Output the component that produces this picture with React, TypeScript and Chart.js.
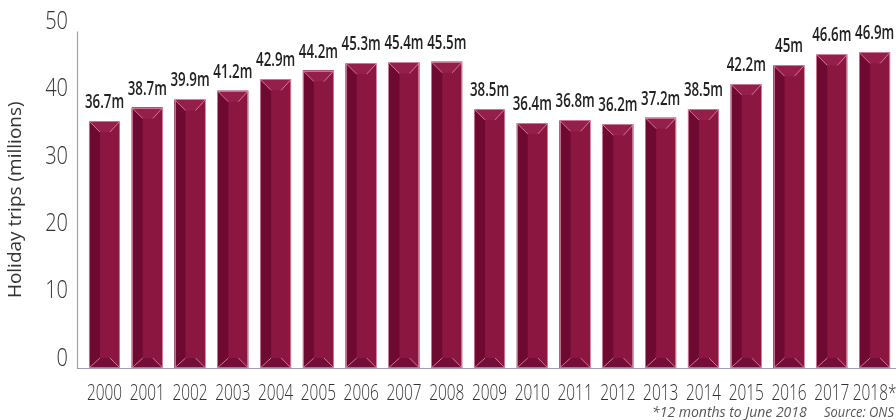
import React, { useEffect, useRef } from "react";
import { Chart, registerables } from "chart.js";

Chart.register(...registerables);

const categories = ["2000","2001","2002","2003","2004","2005","2006","2007","2008","2009","2010","2011","2012","2013","2014","2015","2016","2017","2018*"];
const trips = [36.7,38.7,39.9,41.2,42.9,44.2,45.3,45.4,45.5,38.5,36.4,36.8,36.2,37.2,38.5,42.2,45,46.6,46.9];
const valueLabels = ["36.7m","38.7m","39.9m","41.2m","42.9m","44.2m","45.3m","45.4m","45.5m","38.5m","36.4m","36.8m","36.2m","37.2m","38.5m","42.2m","45m","46.6m","46.9m"];
const yTicks = [0, 10, 20, 30, 40, 50];
const footnote = "*12 months to June 2018";
const source = "Source: ONS";

function condensedText(ctx: any, text: string, x: number, y: number, sx: number) {
  ctx.save();
  ctx.translate(x, y);
  ctx.scale(sx, 1);
  ctx.fillText(text, 0, 0);
  ctx.restore();
}

const bevelPlugin = {
  id: "bevel",
  afterDatasetsDraw(chart: any) {
    const ctx = chart.ctx;
    const meta = chart.getDatasetMeta(0);
    ctx.save();
    meta.data.forEach((bar: any, i: number) => {
      const { x, y, base, width } = bar.getProps(["x", "y", "base", "width"], true);
      const x0 = x - width / 2;
      const x1 = x + width / 2;
      const li = 11, ri = 10, td = 11, bd = 10;
      ctx.fillStyle = "#941f4b";
      ctx.beginPath();
      ctx.moveTo(x0, y); ctx.lineTo(x1, y); ctx.lineTo(x1 - ri, y + td); ctx.lineTo(x0 + li, y + td); ctx.closePath();
      ctx.fill();
      ctx.fillStyle = "#6e0a31";
      ctx.beginPath();
      ctx.moveTo(x0, y); ctx.lineTo(x0 + li, y + td); ctx.lineTo(x0 + li, base - bd); ctx.lineTo(x0, base); ctx.closePath();
      ctx.fill();
      ctx.fillStyle = "#740d37";
      ctx.beginPath();
      ctx.moveTo(x0, base); ctx.lineTo(x0 + li, base - bd); ctx.lineTo(x1 - ri, base - bd); ctx.lineTo(x1, base); ctx.closePath();
      ctx.fill();
      ctx.strokeStyle = "rgba(236,150,180,0.75)";
      ctx.lineWidth = 1;
      ctx.beginPath();
      ctx.moveTo(x0, y); ctx.lineTo(x0 + li, y + td);
      ctx.moveTo(x1, y); ctx.lineTo(x1 - ri, y + td);
      ctx.moveTo(x0, base); ctx.lineTo(x0 + li, base - bd);
      ctx.moveTo(x1, base); ctx.lineTo(x1 - ri, base - bd);
      ctx.stroke();
      ctx.strokeStyle = "rgba(225,150,178,0.7)";
      ctx.strokeRect(Math.round(x0) + 0.5, Math.round(y) + 0.5, Math.round(width) - 1, Math.round(base - y) - 1);
      ctx.fillStyle = "#222";
      ctx.font = '600 19px "Open Sans"';
      ctx.textAlign = "center";
      ctx.textBaseline = "alphabetic";
      condensedText(ctx, valueLabels[i], x, y - 13, 0.7);
    });
    ctx.restore();
  },
  afterDraw(chart: any) {
    const ctx = chart.ctx;
    const { top, bottom } = chart.chartArea;
    const xs = chart.scales.x;
    const ys = chart.scales.y;
    ctx.save();
    ctx.strokeStyle = "#a29dbb";
    ctx.lineWidth = 1.2;
    ctx.beginPath();
    ctx.moveTo(77.5, top);
    ctx.lineTo(77.5, bottom + 0.5);
    ctx.lineTo(chart.width, bottom + 0.5);
    ctx.stroke();

    ctx.fillStyle = "#333";
    ctx.font = '300 22px "Open Sans"';
    ctx.textAlign = "center";
    ctx.textBaseline = "alphabetic";
    categories.forEach((c, i) => {
      condensedText(ctx, c, xs.getPixelForTick(i), bottom + 32, 0.7);
    });

    ctx.font = '300 25px "Open Sans"';
    ctx.textAlign = "right";
    ctx.textBaseline = "middle";
    yTicks.forEach((v) => {
      condensedText(ctx, String(v), 68, ys.getPixelForValue(v) - 9.5, 0.8);
    });

    ctx.fillStyle = "#555";
    ctx.font = 'italic 14px "Open Sans"';
    ctx.textAlign = "left";
    ctx.textBaseline = "middle";
    ctx.fillText(footnote, 652, 413);
    condensedText(ctx, source, 824, 413, 0.92);
    ctx.restore();
  },
};

export default function App() {
  const ref = useRef<HTMLCanvasElement>(null);
  useEffect(() => {
    if (!ref.current) return;
    const chart = new Chart(ref.current, {
      type: "bar",
      data: {
        labels: categories,
        datasets: [
          {
            data: trips,
            backgroundColor: "#8b1741",
            borderWidth: 0,
            categoryPercentage: 1,
            barPercentage: 0.725,
          },
        ],
      },
      options: {
        animation: false,
        responsive: false,
        devicePixelRatio: 1,
        layout: { padding: { top: 31.5, right: 24, bottom: 0, left: 0 } },
        plugins: { legend: { display: false }, tooltip: { enabled: false } },
        scales: {
          x: {
            type: "category",
            grid: { display: false },
            border: { display: false },
            ticks: { display: false },
            afterFit: (s: any) => { s.height = 52; },
          },
          y: {
            min: 0,
            max: 50,
            afterBuildTicks: (s: any) => { s.ticks = yTicks.map((v) => ({ value: v })); },
            grid: { display: false },
            border: { display: false },
            ticks: { display: false },
            title: {
              display: true,
              text: "Holiday trips (millions)",
              color: "#333",
              font: { family: "Open Sans", size: 19 },
              padding: { top: 4, bottom: 0 },
            },
            afterFit: (s: any) => { s.width = 83.1; },
          },
        },
      },
      plugins: [bevelPlugin],
    });
    return () => chart.destroy();
  }, []);
  return (
    <div style={{ position: "fixed", left: 0, top: 0, width: 896, height: 420, overflow: "hidden", background: "#fff" }}>
      <canvas ref={ref} width={920} height={420} style={{ display: "block" }} />
    </div>
  );
}
